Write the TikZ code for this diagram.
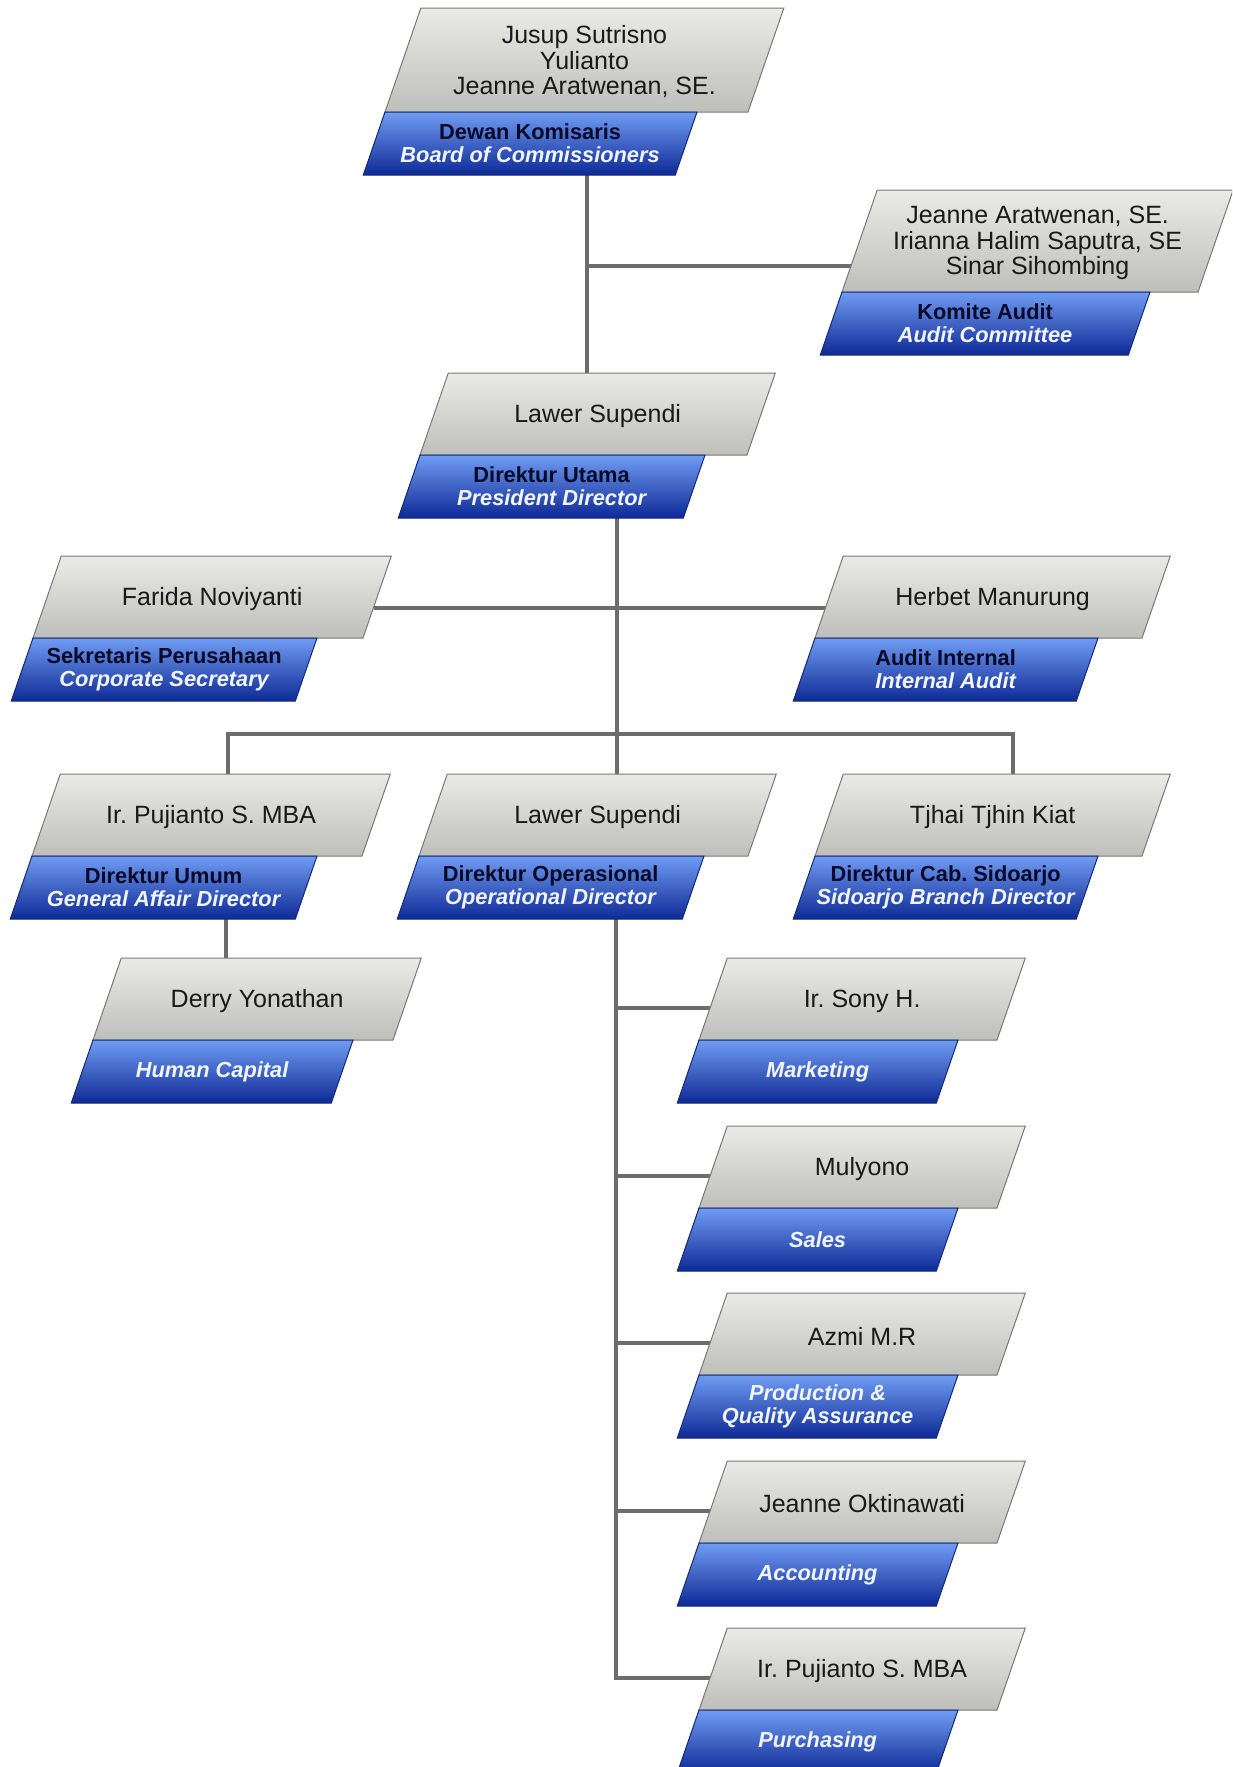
\documentclass[tikz,border=0pt]{standalone}
\usepackage{fontspec}
\setmainfont{Liberation Sans}
\usetikzlibrary{backgrounds}
\frenchspacing
\definecolor{linec}{RGB}{108,108,108}
\definecolor{gtop}{RGB}{234,234,232}
\definecolor{gmid}{RGB}{214,214,210}
\definecolor{gbot}{RGB}{190,190,186}
\definecolor{gedge}{RGB}{120,120,120}
\definecolor{btop}{RGB}{112,156,242}
\definecolor{bmid}{RGB}{52,98,218}
\definecolor{bbot}{RGB}{14,42,150}
\definecolor{bedge}{RGB}{20,40,120}
\definecolor{navytext}{RGB}{8,10,40}
\definecolor{whitetext}{RGB}{242,245,255}
\definecolor{nametextc}{RGB}{25,25,25}
\tikzset{
  greybox/.style={draw=gedge, line width=1pt, top color=gtop, middle color=gmid, bottom color=gbot},
  bluebox/.style={draw=bedge, line width=1pt, top color=btop, middle color=bmid, bottom color=bbot},
  nametext/.style={inner sep=0pt, align=center, text=nametextc, font=\fontsize{25}{25.5}\selectfont},
  bluetext/.style={inner sep=0pt, align=center, font=\bfseries\fontsize{21.8}{23}\selectfont},
  conn/.style={draw=linec, line width=4.5pt},
}
\newcommand\bluetwo[2]{\textcolor{navytext}{#1}\\\textcolor{whitetext}{\itshape #2}}
\newcommand\blueone[1]{\textcolor{whitetext}{\itshape #1}}
% #1 name, #2 x of grey bottom-left, #3 y of grey top, #4 width, #5 grey height, #6 blue width, #7 name text, #8 blue text
\newcommand\orgbox[8]{%
  \path[greybox] ({#2+0.345*#5},#3) -- ({#2+0.345*#5+#4},#3) -- ({#2+#4},{#3+#5}) -- (#2,{#3+#5}) -- cycle;
  \path[bluebox] (#2,{#3+#5}) -- ({#2+#6},{#3+#5}) -- ({#2+#6-21.7},{#3+#5+63}) -- ({#2-21.7},{#3+#5+63}) -- cycle;
  \node[nametext] (#1-n) at ({#2+#4/2+0.1725*#5},{#3+#5/2+2}) {#7};
  \node[bluetext] (#1-b) at ({#2+#6/2-10.9},{#3+#5+31.5}) {#8};
  \coordinate (#1-top) at ({#2+#4/2+0.345*#5},#3);
  \coordinate (#1-bot) at ({#2+#6/2-21.7},{#3+#5+63});
  \coordinate (#1-in) at ({#2+0.1345*#5},{#3+0.61*#5});
  \coordinate (#1-out) at ({#2+#4+0.1345*#5},{#3+0.61*#5});
}
\begin{document}
\begin{tikzpicture}[x=1pt,y=-1pt]
\useasboundingbox (0,0) rectangle (1232,1767);
\clip (0,0) rectangle (1232,1767);

\orgbox{dk}{385}{8}{363}{104}{312}{Jusup Sutrisno\\Yulianto\\Jeanne Aratwenan, SE.}{\bluetwo{Dewan Komisaris}{Board of Commissioners}}
\orgbox{ka}{842}{190}{356}{102}{308}{Jeanne Aratwenan, SE.\\Irianna Halim Saputra, SE\\Sinar Sihombing}{\bluetwo{Komite Audit}{Audit Committee}}
\orgbox{du}{420}{373}{327}{82}{285}{Lawer Supendi}{\bluetwo{Direktur Utama}{President Director}}
\orgbox{sp}{33}{556}{330}{82}{284}{Farida Noviyanti}{\bluetwo{Sekretaris Perusahaan}{Corporate Secretary}}
\orgbox{ai}{815}{556}{327}{82}{283}{Herbet Manurung}{\bluetwo{Audit Internal}{Internal Audit}}
\orgbox{gu}{32}{774}{330}{82}{285}{Ir. Pujianto S. MBA}{\bluetwo{Direktur Umum}{General Affair Director}}
\orgbox{op}{419}{774}{329}{82}{285}{Lawer Supendi}{\bluetwo{Direktur Operasional}{Operational Director}}
\orgbox{cs}{815}{774}{327}{82}{283}{Tjhai Tjhin Kiat}{\bluetwo{Direktur Cab. Sidoarjo}{Sidoarjo Branch Director}}
\orgbox{hc}{93}{958}{300}{82}{260}{Derry Yonathan}{\blueone{Human Capital}}
\orgbox{mk}{699}{958}{298}{82}{259}{Ir. Sony H.}{\blueone{Marketing}}
\orgbox{sl}{699}{1126}{298}{82}{259}{Mulyono}{\blueone{Sales}}
\orgbox{pq}{699}{1293}{298}{82}{259}{Azmi M.R}{\blueone{Production \&}\\\blueone{Quality Assurance}}
\orgbox{ac}{699}{1461}{298}{82}{259}{Jeanne Oktinawati}{\blueone{Accounting}}
\orgbox{pu}{699}{1628}{298}{82}{259}{Ir. Pujianto S. MBA}{\blueone{Purchasing}}

\begin{scope}[on background layer]
  \fill[white] (0,0) rectangle (1232,1767);
  \coordinate (t1) at (587,266);
  \draw[conn] (dk-bot -| t1) -- (du-top -| t1);
  \draw[conn] (t1) -- (ka-in |- t1);
  \coordinate (t2) at (617,608);
  \draw[conn] (du-bot -| t2) -- (op-top -| t2);
  \draw[conn] (sp-out |- t2) -- (ai-in |- t2);
  \coordinate (l3) at (228,734);
  \coordinate (r3) at (1013,734);
  \draw[conn] (gu-top -| l3) -- (l3) -- (r3) -- (cs-top -| r3);
  \coordinate (t4) at (226,940);
  \draw[conn] (gu-bot -| t4) -- (hc-top -| t4);
  \coordinate (t5) at (616,1000);
  \draw[conn] (op-bot -| t5) -- (pu-in -| t5) -- (pu-in);
  \foreach \b in {mk,sl,pq,ac} \draw[conn] (\b-in -| t5) -- (\b-in);
\end{scope}
\end{tikzpicture}
\end{document}
